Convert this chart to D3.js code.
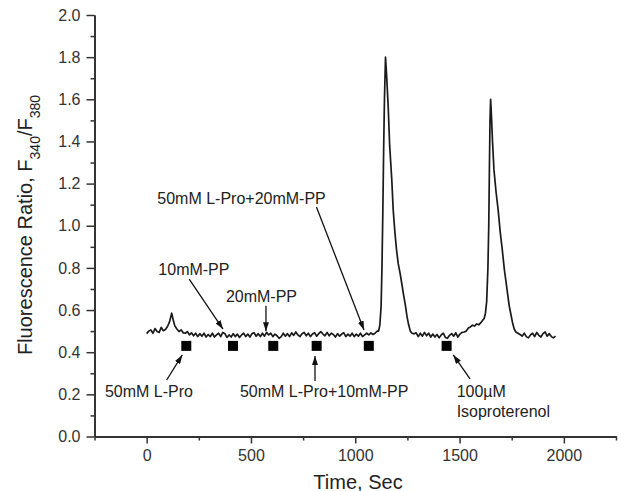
<!DOCTYPE html>
<html>
<head>
<meta charset="utf-8">
<script src="https://cdn.jsdelivr.net/npm/d3@7"></script>
<style>
  body { margin: 0; background: #fff; }
  svg { display: block; font-family: "Liberation Sans", Arial, sans-serif; }
</style>
</head>
<body>
<svg id="chart"></svg>
<script>
// trace: time (s) and F340/F380 ratio
const times = [0,10,20,30,40,50,60,70,80,90,100,110,120,128,135,145,155,165,175,
  185,195,205,215,225,235,245,255,265,275,285,295,305,315,325,335,345,355,365,375,385,395,405,415,425,435,445,455,465,475,485,495,505,515,525,535,545,555,565,575,585,595,605,615,625,635,645,655,665,675,685,695,705,715,725,735,745,755,765,775,785,795,805,815,825,835,845,855,865,875,885,895,905,915,925,935,945,955,965,975,985,995,1005,1015,1025,1035,1045,1055,1065,1075,1085,1095,
  1105,1112,1118,1124,1128,1132,1136,1140,1145,1150,1158,1165,1175,1182,1190,1198,1206,1214,1224,1232,1240,1248,1256,1264,1272,
  1282,1292,1302,1312,1322,1332,1342,1352,1362,1372,1382,1392,1402,1412,1422,1432,1442,1452,1462,1472,1482,1492,1502,1512,
  1522,1532,1542,1552,1562,1572,1582,1592,1602,1610,1618,1624,1630,1636,1640,1643,1646,1649,1653,1658,1665,1675,1685,1695,1705,1715,1722,1730,1738,1746,1754,1762,1770,
  1780,1790,1800,1810,1820,1830,1840,1850,1860,1870,1880,1890,1900,1910,1920,1930,1940,1950,1960];
const ratios = [0.488,0.50,0.506,0.49,0.512,0.498,0.494,0.518,0.502,0.508,0.522,0.545,0.585,0.55,0.525,0.51,0.498,0.506,0.492,
  0.49,0.498,0.482,0.492,0.478,0.49,0.474,0.488,0.476,0.49,0.472,0.484,0.474,0.49,0.472,0.482,0.49,0.474,0.494,0.488,0.47,0.482,0.472,0.488,0.474,0.486,0.47,0.482,0.49,0.474,0.486,0.472,0.488,0.492,0.476,0.488,0.474,0.49,0.476,0.494,0.482,0.49,0.474,0.486,0.478,0.466,0.474,0.49,0.476,0.488,0.474,0.492,0.48,0.496,0.482,0.474,0.488,0.494,0.478,0.49,0.474,0.486,0.492,0.476,0.488,0.498,0.486,0.478,0.494,0.478,0.49,0.484,0.472,0.488,0.476,0.486,0.492,0.474,0.486,0.476,0.49,0.474,0.486,0.476,0.49,0.474,0.482,0.49,0.482,0.492,0.484,0.49,
  0.50,0.50,0.53,0.62,0.80,1.05,1.35,1.60,1.80,1.72,1.565,1.38,1.22,1.075,0.97,0.885,0.82,0.78,0.72,0.67,0.625,0.57,0.53,0.50,0.49,
  0.487,0.492,0.474,0.49,0.476,0.494,0.478,0.49,0.472,0.486,0.472,0.484,0.468,0.482,0.49,0.47,0.466,0.48,0.488,0.476,0.492,0.472,0.486,0.494,
  0.496,0.50,0.515,0.52,0.528,0.524,0.534,0.53,0.54,0.55,0.56,0.585,0.64,0.80,1.00,1.26,1.50,1.60,1.52,1.40,1.265,1.16,1.075,0.97,0.885,0.79,0.74,0.68,0.62,0.58,0.54,0.51,0.496,
  0.49,0.484,0.476,0.49,0.474,0.468,0.482,0.49,0.474,0.494,0.48,0.472,0.488,0.496,0.476,0.488,0.474,0.468,0.476];

// square markers (additions)
const markTimes = [190, 414, 607, 815, 1065, 1438];
const markRatio = 0.43;

const xTicks = [0, 500, 1000, 1500, 2000];
const xMinor = [-250, 250, 750, 1250, 1750, 2250];
const yTicks = [0, 0.2, 0.4, 0.6, 0.8, 1.0, 1.2, 1.4, 1.6, 1.8, 2.0];
const yMinor = [0.1, 0.3, 0.5, 0.7, 0.9, 1.1, 1.3, 1.5, 1.7, 1.9];

// annotations: label lines, label anchor and arrow tail/head in data units
const notes = [
  {lines: ['50mM L-Pro'], tx: -200, ty: 0.1875, from: [96, 0.268], to: [171, 0.387]},
  {lines: ['10mM-PP'], tx: 56, ty: 0.766, from: [204, 0.747], to: [366, 0.51]},
  {lines: ['20mM-PP'], tx: 380, ty: 0.64, from: [572, 0.62], to: [572, 0.50]},
  {lines: ['50mM L-Pro+20mM-PP'], tx: 51, ty: 1.103, from: [814, 1.089], to: [1042, 0.505]},
  {lines: ['50mM L-Pro+10mM-PP'], tx: 447, ty: 0.1875, from: [807, 0.263], to: [807, 0.382]},
  {lines: ['100\u00b5M', 'Isoproterenol'], tx: 1486, ty: 0.1875, from: [1550, 0.273], to: [1470, 0.387]}
];

const width = 621;
const height = 491;
const svg = d3.select('#chart').attr('width', width).attr('height', height);

const xScale = d3.scaleLinear().domain([-250, 2250]).range([94.5, 616]);
const yScale = d3.scaleLinear().domain([0, 2]).range([436.5, 15]);

const axisColor = '#333';

const drawAxes = () => {
  const xAxis = d3.axisBottom(xScale).tickValues(xTicks).tickFormat(d3.format('d')).tickSize(7).tickSizeOuter(0).tickPadding(6);
  const xMin = d3.axisBottom(xScale).tickValues(xMinor).tickFormat('').tickSize(4).tickSizeOuter(0);
  const yAxis = d3.axisLeft(yScale).tickValues(yTicks).tickFormat(d3.format('.1f')).tickSize(8).tickSizeOuter(0).tickPadding(6);
  const yMin = d3.axisLeft(yScale).tickValues(yMinor).tickFormat('').tickSize(4).tickSizeOuter(0);

  const gx = svg.append('g').attr('transform', `translate(0,${yScale(0)})`);
  gx.call(xAxis);
  gx.append('g').call(xMin);
  const gy = svg.append('g').attr('transform', `translate(${xScale(-250)},0)`);
  gy.call(yAxis);
  gy.append('g').call(yMin);

  svg.selectAll('.domain').attr('stroke', axisColor).attr('stroke-width', 1.8);
  svg.selectAll('.tick line').attr('stroke', axisColor).attr('stroke-width', 1.5);
  svg.selectAll('.tick text').attr('fill', '#333').style('font-size', '16px')
    .style('font-family', '"Liberation Sans", Arial, sans-serif');

  svg.append('text')
    .attr('x', 358).attr('y', 488.5)
    .attr('text-anchor', 'middle')
    .attr('fill', '#222')
    .style('font-size', '20px')
    .text('Time, Sec');

  const yl = svg.append('text')
    .attr('transform', 'translate(32,225) rotate(-90)')
    .attr('text-anchor', 'middle')
    .attr('fill', '#222')
    .style('font-size', '20px');
  yl.append('tspan').text('Fluorescence Ratio, F');
  yl.append('tspan').attr('baseline-shift', 'sub').style('font-size', '14px').text('340');
  yl.append('tspan').text('/F');
  yl.append('tspan').attr('baseline-shift', 'sub').style('font-size', '14px').text('380');
};

const drawTrace = () => {
  const pts = times.map((t, i) => [t, ratios[i]]);
  const line = d3.line().x(d => xScale(d[0])).y(d => yScale(d[1]));
  svg.append('path')
    .datum(pts)
    .attr('d', line)
    .attr('fill', 'none')
    .attr('stroke', '#1a1a1a')
    .attr('stroke-width', 1.7)
    .attr('stroke-linejoin', 'round');

  svg.selectAll('rect.mark').data(markTimes).enter().append('rect')
    .attr('class', 'mark')
    .attr('x', d => xScale(d) - 5)
    .attr('y', yScale(markRatio) - 5)
    .attr('width', 10).attr('height', 10)
    .attr('fill', '#000');
};

const drawNotes = () => {
  svg.append('defs').append('marker')
    .attr('id', 'head')
    .attr('viewBox', '0 0 10 10')
    .attr('refX', 10).attr('refY', 5)
    .attr('markerUnits', 'userSpaceOnUse')
    .attr('markerWidth', 9).attr('markerHeight', 6)
    .attr('orient', 'auto')
    .attr('preserveAspectRatio', 'none')
    .append('path').attr('d', 'M0,0 L10,5 L0,10 Z').attr('fill', '#111');

  notes.forEach(n => {
    svg.append('line')
      .attr('x1', xScale(n.from[0])).attr('y1', yScale(n.from[1]))
      .attr('x2', xScale(n.to[0])).attr('y2', yScale(n.to[1]))
      .attr('stroke', '#111').attr('stroke-width', 1.3)
      .attr('marker-end', 'url(#head)');
    n.lines.forEach((s, i) => {
      svg.append('text')
        .attr('x', xScale(n.tx))
        .attr('y', yScale(n.ty) + i * 20)
        .attr('fill', '#222')
        .style('font-size', '16px')
        .text(s);
    });
  });
};

drawAxes();
drawTrace();
drawNotes();
</script>
</body>
</html>
